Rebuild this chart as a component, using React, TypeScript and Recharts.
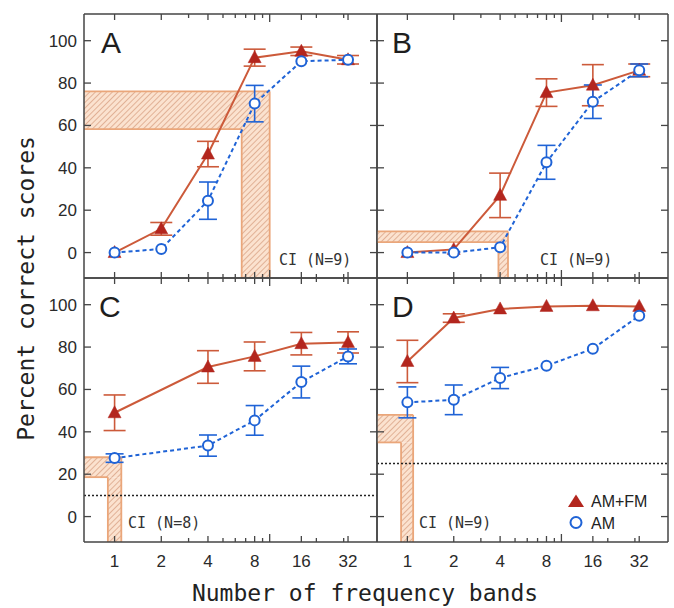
import React from 'react';
import { LineChart, Line, XAxis, YAxis, ErrorBar, ReferenceArea, ReferenceLine } from 'recharts';

// ---------- data ----------
const xTicks = [1, 2, 3, 4, 5, 6, 7, 8, 9, 10, 16, 20, 30, 32];
const xLabels = [1, 2, 4, 8, 16, 32];
const yTicks = [0, 20, 40, 60, 80, 100];

const bandsA = [1, 2, 4, 8, 16, 32];
const amfmA = [0, 11.2, 46.5, 92, 95, 91];
const amfmErrA = [null, 3, 6, 4, 2, 2];
const amA = [0, 1.7, 24.5, 70.3, 90.3, 91];
const amErrA = [null, null, 8.8, 8.6, null, null];
const ciXA = [6.6, 10.0];
const ciYA = [58.3, 76.1];

const bandsB = [1, 2, 4, 8, 16, 32];
const amfmB = [0, 1.5, 27, 75.5, 79, 86];
const amfmErrB = [null, null, 10.5, 6.5, 9.7, 3];
const amB = [0, 0, 2.5, 42.6, 71.2, 86];
const amErrB = [null, null, null, 8, 7.9, 3];
const ciXB = [3.9, 4.5];
const ciYB = [4.9, 10];

const bandsC = [1, 4, 8, 16, 32];
const amfmC = [49, 70.6, 75.6, 81.6, 82.2];
const amfmErrC = [8.4, 7.7, 6.8, 5.3, 5];
const amC = [27.6, 33.5, 45.4, 63.5, 75.6];
const amErrC = [2, 5, 7, 7.5, 3.5];
const ciXC = [0.905, 1.105];
const ciYC = [18.6, 28];
const chanceC = 10;

const bandsD = [1, 2, 4, 8, 16, 32];
const amfmD = [73.2, 93.7, 98, 99.2, 99.5, 99.2];
const amfmErrD = [10, 2, null, null, null, null];
const amD = [53.9, 55.1, 65.4, 71.2, 79.2, 94.8];
const amErrD = [7.3, 7, 5, null, null, null];
const ciXD = [0.91, 1.09];
const ciYD = [35, 48];
const chanceD = 25;

// ---------- styles ----------
const W = 674;
const H = 608;
const XDOM: [number, number] = [0.635, 49.2];
const YDOM: [number, number] = [-12, 112.6];
const RED = '#cc5a3a';
const RED_FILL = '#b3261e';
const BLUE = '#1f63d6';
const AXIS = '#454545';
const HATCH_EDGE = '#eaa67a';
const SANS = '"Liberation Sans", Arial, sans-serif';
const MONO = '"DejaVu Sans Mono", monospace';

function rows(bands: number[], amfm: number[], amfmErr: (number | null)[], am: number[], amErr: (number | null)[]) {
  return bands.map((b, i) => ({ band: b, amfm: amfm[i], amfmErr: amfmErr[i], am: am[i], amErr: amErr[i] }));
}

const Triangle = (props: any) => {
  const { cx, cy, index } = props;
  if (cx == null || cy == null) return <g key={index} />;
  return (
    <polygon
      key={index}
      points={`${cx},${cy - 7} ${cx - 6.5},${cy + 5} ${cx + 6.5},${cy + 5}`}
      fill={RED_FILL}
      stroke={RED_FILL}
      strokeWidth={0.5}
    />
  );
};

const Circle = (props: any) => {
  const { cx, cy, index } = props;
  if (cx == null || cy == null) return <g key={index} />;
  return <circle key={index} cx={cx} cy={cy} r={5} fill="#fff" stroke={BLUE} strokeWidth={2} />;
};

const xLen = (v: number) => (v === 10 ? 8 : xLabels.includes(v) ? 6 : 4);

const makeBottomTick = (showLabel: boolean) => (props: any) => {
  const { x, y, payload } = props;
  const v = payload.value;
  return (
    <g>
      <line x1={x} x2={x} y1={y} y2={y - xLen(v)} stroke={AXIS} strokeWidth={1.3} />
      {showLabel && xLabels.includes(v) ? (
        <text x={x} y={y + 24.5} textAnchor="middle" fontFamily={SANS} fontSize={17} fill="#2a2a2a">
          {v}
        </text>
      ) : null}
    </g>
  );
};

const TopTick = (props: any) => {
  const { x, y, payload } = props;
  const v = payload.value;
  return <line x1={x} x2={x} y1={y} y2={y + xLen(v)} stroke={AXIS} strokeWidth={1.3} />;
};

const makeLeftTick = (showLabel: boolean) => (props: any) => {
  const { x, y, payload } = props;
  return (
    <g>
      <line x1={x} x2={x + 7} y1={y} y2={y} stroke={AXIS} strokeWidth={1.3} />
      {showLabel ? (
        <text x={x - 7} y={y + 6} textAnchor="end" fontFamily={SANS} fontSize={17} fill="#2a2a2a">
          {payload.value}
        </text>
      ) : null}
    </g>
  );
};

const RightTick = (props: any) => {
  const { x, y } = props;
  return <line x1={x} x2={x - 7} y1={y} y2={y} stroke={AXIS} strokeWidth={1.3} />;
};

type PanelProps = {
  data: any[];
  ciX: number[];
  ciY: number[];
  chance?: number;
  plot: { x0: number; x1: number; y0: number; y1: number };
  showX: boolean;
  showY: boolean;
};

function Panel(p: PanelProps) {
  const axisLine = { stroke: AXIS, strokeWidth: 1.5 };
  const outline = { stroke: HATCH_EDGE, strokeWidth: 1.8, ifOverflow: 'visible' as const };
  const margin = {
    left: p.plot.x0 - 1,
    right: W - p.plot.x1 - 1,
    top: p.plot.y0 - 1,
    bottom: H - p.plot.y1 - 1,
  };
  return (
    <div style={{ position: 'absolute', left: 0, top: 0 }}>
      <LineChart width={W} height={H} data={p.data} margin={margin}>
        <XAxis
          dataKey="band"
          type="number"
          scale="log"
          domain={XDOM}
          allowDataOverflow
          ticks={xTicks}
          interval={0}
          height={1}
          tickSize={0}
          tickMargin={0}
          tickLine={false}
          axisLine={axisLine}
          tick={makeBottomTick(p.showX)}
        />
        <XAxis
          xAxisId="top"
          orientation="top"
          dataKey="band"
          type="number"
          scale="log"
          domain={XDOM}
          allowDataOverflow
          ticks={xTicks}
          interval={0}
          height={1}
          tickSize={0}
          tickMargin={0}
          tickLine={false}
          axisLine={axisLine}
          tick={TopTick}
        />
        <YAxis
          type="number"
          domain={YDOM}
          allowDataOverflow
          ticks={yTicks}
          interval={0}
          width={1}
          tickSize={0}
          tickMargin={0}
          tickLine={false}
          axisLine={axisLine}
          tick={makeLeftTick(p.showY)}
        />
        <YAxis
          yAxisId="right"
          orientation="right"
          type="number"
          domain={YDOM}
          allowDataOverflow
          ticks={yTicks}
          interval={0}
          width={1}
          tickSize={0}
          tickMargin={0}
          tickLine={false}
          axisLine={axisLine}
          tick={RightTick}
        />
        <ReferenceArea
          x1={XDOM[0]}
          x2={p.ciX[1]}
          y1={p.ciY[0]}
          y2={p.ciY[1]}
          fill="url(#hatch)"
          fillOpacity={1}
          stroke="none"
          ifOverflow="visible"
        />
        <ReferenceArea
          x1={p.ciX[0]}
          x2={p.ciX[1]}
          y1={YDOM[0]}
          y2={p.ciY[0]}
          fill="url(#hatch)"
          fillOpacity={1}
          stroke="none"
          ifOverflow="visible"
        />
        <ReferenceLine segment={[{ x: XDOM[0], y: p.ciY[1] }, { x: p.ciX[1], y: p.ciY[1] }]} {...outline} />
        <ReferenceLine segment={[{ x: p.ciX[1], y: p.ciY[1] }, { x: p.ciX[1], y: YDOM[0] }]} {...outline} />
        <ReferenceLine segment={[{ x: XDOM[0], y: p.ciY[0] }, { x: p.ciX[0], y: p.ciY[0] }]} {...outline} />
        <ReferenceLine segment={[{ x: p.ciX[0], y: p.ciY[0] }, { x: p.ciX[0], y: YDOM[0] }]} {...outline} />
        {p.chance != null ? (
          <ReferenceLine y={p.chance} stroke="#222" strokeWidth={1.5} strokeDasharray="2 2" />
        ) : null}
        <Line
          dataKey="amfm"
          stroke={RED}
          strokeWidth={2}
          dot={Triangle}
          activeDot={false}
          isAnimationActive={false}
        >
          <ErrorBar dataKey="amfmErr" width={11} stroke={RED} strokeWidth={1.6} direction="y" isAnimationActive={false} />
        </Line>
        <Line
          dataKey="am"
          stroke={BLUE}
          strokeWidth={2}
          strokeDasharray="4 3"
          dot={Circle}
          activeDot={false}
          isAnimationActive={false}
        >
          <ErrorBar dataKey="amErr" width={9} stroke={BLUE} strokeWidth={1.6} direction="y" isAnimationActive={false} />
        </Line>
      </LineChart>
    </div>
  );
}

export default function App() {
  const dataA = rows(bandsA, amfmA, amfmErrA, amA, amErrA);
  const dataB = rows(bandsB, amfmB, amfmErrB, amB, amErrB);
  const dataC = rows(bandsC, amfmC, amfmErrC, amC, amErrC);
  const dataD = rows(bandsD, amfmD, amfmErrD, amD, amErrD);
  const letter = { fontFamily: SANS, fontSize: 30, fill: '#1e1e1e' };
  const ci = { fontFamily: MONO, fontSize: 15, fill: '#333' };
  return (
    <div style={{ position: 'absolute', left: 0, top: 0, width: W, height: H, background: '#fff' }}>
      <svg width={0} height={0} style={{ position: 'absolute' }}>
        <defs>
          <pattern id="hatch" patternUnits="userSpaceOnUse" width={4} height={4} patternTransform="rotate(45)">
            <rect width={4} height={4} fill="#fbe2cf" />
            <line x1={0} y1={0} x2={0} y2={4} stroke="#d69c7e" strokeWidth={1.4} />
          </pattern>
        </defs>
      </svg>
      <Panel data={dataA} ciX={ciXA} ciY={ciYA} plot={{ x0: 84, x1: 377, y0: 14, y1: 278 }} showX={false} showY={true} />
      <Panel data={dataB} ciX={ciXB} ciY={ciYB} plot={{ x0: 377, x1: 668, y0: 14, y1: 278 }} showX={false} showY={false} />
      <Panel
        data={dataC}
        ciX={ciXC}
        ciY={ciYC}
        chance={chanceC}
        plot={{ x0: 84, x1: 377, y0: 278, y1: 542 }}
        showX={true}
        showY={true}
      />
      <Panel
        data={dataD}
        ciX={ciXD}
        ciY={ciYD}
        chance={chanceD}
        plot={{ x0: 377, x1: 668, y0: 278, y1: 542 }}
        showX={true}
        showY={false}
      />
      <svg width={W} height={H} style={{ position: 'absolute', left: 0, top: 0, pointerEvents: 'none' }}>
        <text x={101} y={53} {...letter}>A</text>
        <text x={392} y={53} {...letter}>B</text>
        <text x={99} y={317} {...letter}>C</text>
        <text x={392} y={317} {...letter}>D</text>
        <text x={279} y={265} {...ci}>CI (N=9)</text>
        <text x={540} y={265} {...ci}>CI (N=9)</text>
        <text x={128} y={528} {...ci}>CI (N=8)</text>
        <text x={419} y={528} {...ci}>CI (N=9)</text>
        <polygon points="576,494.5 568,507 584,507" fill={RED_FILL} />
        <text x={591} y={507} fontFamily={SANS} fontSize={16} fill="#222">AM+FM</text>
        <circle cx={576} cy={522.5} r={5.5} fill="#fff" stroke={BLUE} strokeWidth={2} />
        <text x={591} y={528.5} fontFamily={SANS} fontSize={16} fill="#222">AM</text>
        <text x={365} y={601} textAnchor="middle" fontFamily={MONO} fontSize={23} fill="#222">
          Number of frequency bands
        </text>
        <text
          x={0}
          y={0}
          transform="translate(34,288.5) rotate(-90)"
          textAnchor="middle"
          fontFamily={MONO}
          fontSize={23}
          fill="#222"
        >
          Percent correct scores
        </text>
      </svg>
    </div>
  );
}
